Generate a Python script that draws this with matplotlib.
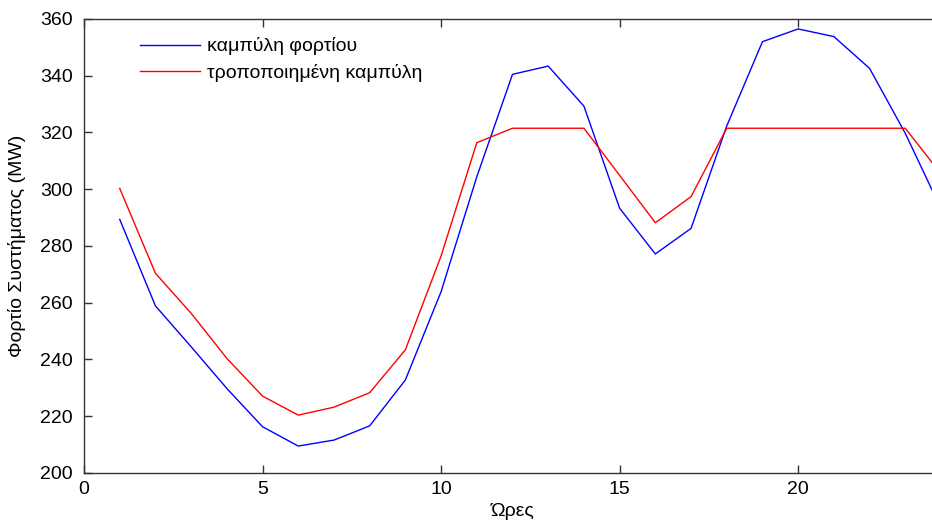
import matplotlib
matplotlib.use('Agg')
import matplotlib.pyplot as plt

hours = list(range(1, 25))
load = [289.4, 258.9, 244.5, 229.8, 216.3, 209.5, 211.6, 216.6, 232.8, 263.9, 304.4, 340.5,
        343.4, 329.3, 293.3, 277.2, 286.2, 322.3, 352.0, 356.5, 353.8, 342.6, 319.7, 293.1]
modified = [300.3, 270.4, 256.3, 240.4, 227.1, 220.4, 223.2, 228.3, 243.4, 276.5, 316.4, 321.5,
            321.5, 321.5, 304.9, 288.2, 297.4, 321.5, 321.5, 321.5, 321.5, 321.5, 321.5, 305.4]

plt.rcParams['font.family'] = ['Liberation Sans', 'DejaVu Sans']

fig = plt.figure(figsize=(9.32, 5.29), dpi=100)
ax = fig.add_axes([84 / 932, 1 - 473 / 529, (941 - 84) / 932, (473 - 19) / 529])

ax.plot(hours, load, color='#0000ff', lw=1.0, label='καμπύλη φορτίου')
ax.plot(hours, modified, color='#ff0000', lw=1.0, label='τροποποιημένη καμπύλη')

ax.set_xlim(0, 24)
ax.set_ylim(200, 360)
ax.set_xticks([0, 5, 10, 15, 20])
ax.set_yticks(range(200, 361, 20))
ax.tick_params(direction='in', top=True, right=True, length=6, width=1,
               labelsize=14, color='#333333')
ax.tick_params(axis='y', pad=8)
ax.tick_params(axis='x', pad=6)
for s in ax.spines.values():
    s.set_color('#333333')
    s.set_linewidth(1)

ax.set_xlabel('Ώρες', fontsize=14, labelpad=3)
ax.set_ylabel('Φορτίο Συστήματος (MW)', fontsize=14, labelpad=10)

ax.legend(loc='upper left', bbox_to_anchor=(0.045, 0.998), frameon=False, fontsize=14,
          handlelength=3.1, handletextpad=0.35, labelspacing=0.45)

fig.savefig('out.png', dpi=100)
